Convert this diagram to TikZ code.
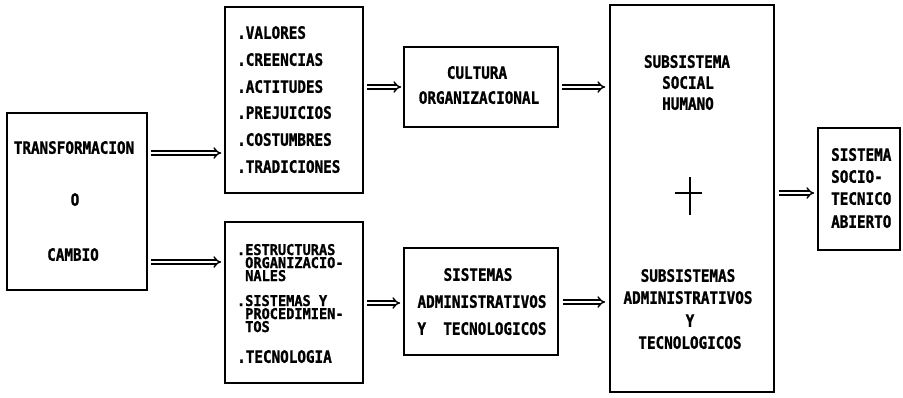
\documentclass[tikz,border=0pt]{standalone}
\usepackage{fontspec}
\newfontfamily\prt{DejaVu Sans Mono Bold}[FakeStretch=0.84, FakeBold=1.2]
\newfontfamily\prtc{DejaVu Sans Mono Bold}[FakeStretch=0.92, FakeBold=1.2]
\usetikzlibrary{arrows.meta}
\tikzset{
  box/.style={draw, line width=1.6pt, inner sep=0pt},
  txt/.style={inner sep=0pt, text height=11.5pt, text depth=0pt,
    font=\prt\fontsize{17}{17}\selectfont},
  lft/.style={txt, anchor=west},
  cmp/.style={lft, text height=10pt, font=\prtc\fontsize{14.8}{14.8}\selectfont},
  dbl/.style={double, double distance=2.4pt, line width=1.4pt,
    -{Implies[length=6pt, width=9pt]}},
}
\begin{document}
\begin{tikzpicture}[x=1pt, y=-1pt]
\useasboundingbox (0,0) rectangle (903,397);
% boxes
\node[box, minimum width=140pt, minimum height=177pt] (A) at (77,201.5) {};
\node[box, minimum width=138pt, minimum height=186pt] (B) at (294,100) {};
\node[box, minimum width=138pt, minimum height=161pt] (C) at (294,302.5) {};
\node[box, minimum width=154pt, minimum height=80pt]  (D) at (481,87) {};
\node[box, minimum width=154pt, minimum height=107pt] (E) at (481,301.5) {};
\node[box, minimum width=164pt, minimum height=387pt] (F) at (692,198.5) {};
\node[box, minimum width=82pt,  minimum height=122pt] (G) at (859,189) {};
% first box
\node[txt] (a1) at (74,148) {TRANSFORMACION};
\node[txt] (a2) at (75,200) {O};
\node[txt] (a3) at (73,255) {CAMBIO};
% values list
\node[lft] (b1) at (237,33)  {.VALORES};
\node[lft] (b2) at (237,60)  {.CREENCIAS};
\node[lft] (b3) at (237,87)  {.ACTITUDES};
\node[lft] (b4) at (237,113) {.PREJUICIOS};
\node[lft] (b5) at (237,140) {.COSTUMBRES};
\node[lft] (b6) at (237,167) {.TRADICIONES};
% structures list
\node[cmp] (c1) at (245,250) {\llap{.}ESTRUCTURAS};
\node[cmp] (c2) at (245,263) {ORGANIZACIO-};
\node[cmp] (c3) at (245,276) {NALES};
\node[cmp] (c4) at (245,301) {\llap{.}SISTEMAS Y};
\node[cmp] (c5) at (245,314) {PROCEDIMIEN-};
\node[cmp] (c6) at (245,327) {TOS};
\node[lft] (c7) at (237,357) {.TECNOLOGIA};
% culture
\node[txt] (d1) at (477,73) {CULTURA};
\node[txt] (d2) at (479,98) {ORGANIZACIONAL};
% administrative systems
\node[txt] (e1) at (478,275) {SISTEMAS};
\node[txt] (e2) at (482,302) {ADMINISTRATIVOS};
\node[txt] (e3) at (482,329) {Y\ \ TECNOLOGICOS};
% subsystems
\node[txt] (f1) at (687,62)  {SUBSISTEMA};
\node[txt] (f2) at (688,83)  {SOCIAL};
\node[txt] (f3) at (688,104) {HUMANO};
\node[txt] (f4) at (688,276) {SUBSISTEMAS};
\node[txt] (f5) at (688,298) {ADMINISTRATIVOS};
\node[txt] (f6) at (690,321) {Y};
\node[txt] (f7) at (690,343) {TECNOLOGICOS};
\draw[line width=1.2pt] (675,193) -- (702,193) (690,177) -- (690,215);
% result
\node[lft] (g1) at (831,155) {SISTEMA};
\node[lft] (g2) at (831,177) {SOCIO-};
\node[lft] (g3) at (831,199) {TECNICO};
\node[lft] (g4) at (831,222) {ABIERTO};
% connectors
\draw[dbl] (A.east |- 0,153) ++(3,0) -- ([xshift=-3pt]B.west |- 0,153);
\draw[dbl] (A.east |- 0,262) ++(3,0) -- ([xshift=-3pt]C.west |- 0,262);
\draw[dbl] (B.east |- 0,87) ++(3,0) -- ([xshift=-2pt]D.west |- 0,87);
\draw[dbl] (C.east |- 0,303) ++(3,0) -- ([xshift=-3pt]E.west |- 0,303);
\draw[dbl] (D.east |- 0,87) ++(3,0) -- ([xshift=-4pt]F.west |- 0,87);
\draw[dbl] (E.east |- 0,302) ++(4,0) -- ([xshift=-4pt]F.west |- 0,302);
\draw[dbl] (F.east |- 0,193) ++(4,0) -- ([xshift=-3pt]G.west |- 0,193);
\end{tikzpicture}
\end{document}
